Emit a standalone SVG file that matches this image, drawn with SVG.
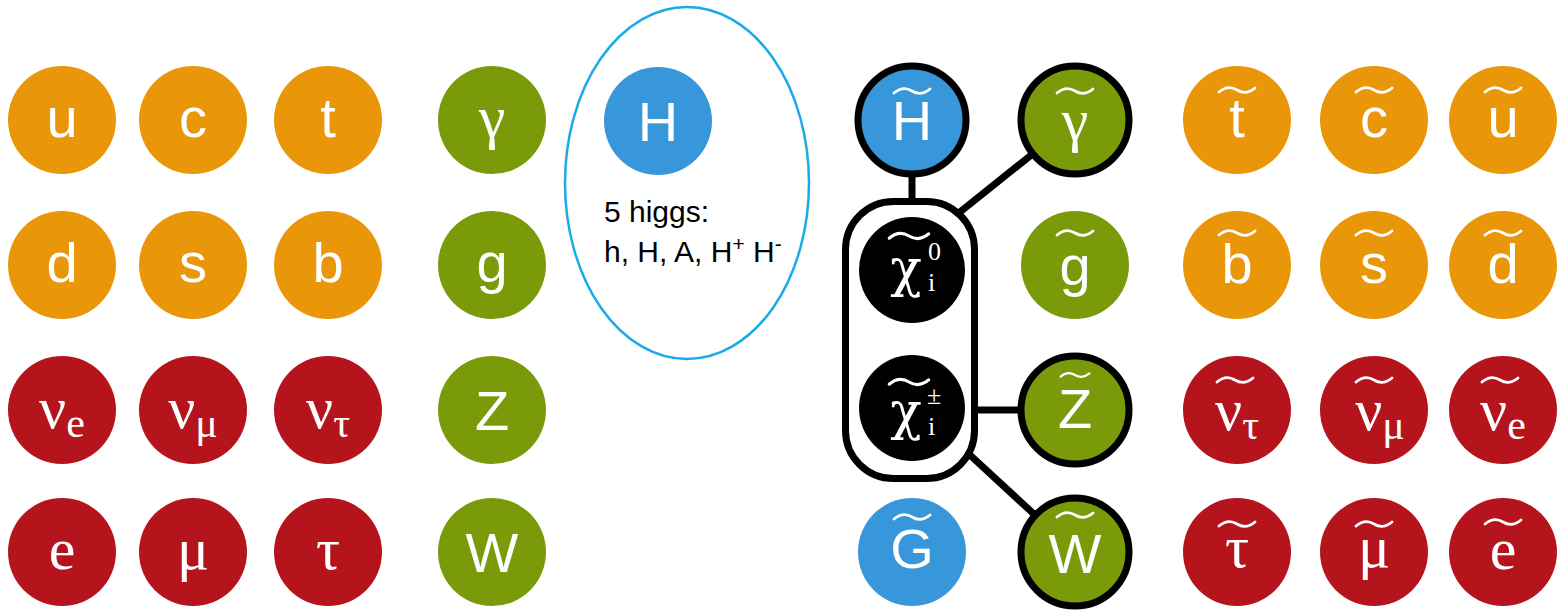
<svg xmlns="http://www.w3.org/2000/svg" xmlns:xlink="http://www.w3.org/1999/xlink" width="1560" height="610" viewBox="0 0 1560 610">
<style>
.o{fill:#E99708}
.g{fill:#7B9A0A}
.r{fill:#B6141D}
.b{fill:#3897DB}
.k{fill:#000}
.st{stroke:#000;stroke-width:7}
.sa{font-family:"Liberation Sans",Arial,sans-serif;font-size:56px;fill:#fff;text-anchor:middle}
.se{font-family:"Liberation Serif","Times New Roman",serif;font-size:60px;fill:#fff;text-anchor:middle}
.chi{font-family:"DejaVu Serif","Liberation Serif",serif;font-size:52px;fill:#fff;text-anchor:middle}
.sm{font-family:"Liberation Serif","Times New Roman",serif;font-size:26px;fill:#fff}
.tl{fill:none;stroke:#fff;stroke-width:2.8;stroke-linecap:round}
.lk{stroke:#000;stroke-width:7;fill:none}
.ht{font-family:"Liberation Sans",Arial,sans-serif;font-size:30px;fill:#000}
</style>
<defs>
<path id="tld" d="M-18,2 Q-9,-5.5 0,0 T18,-2"/>
</defs>
<rect width="1560" height="610" fill="#fff"/>

<!-- Standard model: quarks -->
<g id="u"><circle class="o" cx="62" cy="120" r="54"/><text class="sa" x="62" y="137">u</text></g>
<g id="c"><circle class="o" cx="193" cy="120" r="54"/><text class="sa" x="193" y="137">c</text></g>
<g id="t"><circle class="o" cx="328" cy="120" r="54"/><text class="sa" x="328" y="137">t</text></g>
<g id="d"><circle class="o" cx="62" cy="265" r="54"/><text class="sa" x="62" y="282">d</text></g>
<g id="s"><circle class="o" cx="193" cy="265" r="54"/><text class="sa" x="193" y="282">s</text></g>
<g id="b"><circle class="o" cx="328" cy="265" r="54"/><text class="sa" x="328" y="282">b</text></g>
<!-- leptons -->
<g id="nue"><circle class="r" cx="62" cy="410" r="54"/><text class="se" x="62" y="428">ν<tspan font-size="42" dy="9">e</tspan></text></g>
<g id="numu"><circle class="r" cx="193" cy="410" r="54"/><text class="se" x="193" y="428">ν<tspan font-size="42" dy="9">μ</tspan></text></g>
<g id="nutau"><circle class="r" cx="328" cy="410" r="54"/><text class="se" x="328" y="428">ν<tspan font-size="42" dy="9">τ</tspan></text></g>
<g id="e"><circle class="r" cx="62" cy="552" r="54"/><text class="se" x="62" y="569" font-size="64">e</text></g>
<g id="mu"><circle class="r" cx="193" cy="552" r="54"/><text class="se" x="193" y="569">μ</text></g>
<g id="tau"><circle class="r" cx="328" cy="552" r="54"/><text class="se" x="328" y="569">τ</text></g>
<!-- bosons -->
<g id="gamma"><circle class="g" cx="492" cy="120" r="54"/><text class="se" x="492" y="137">γ</text></g>
<g id="gluon"><circle class="g" cx="492" cy="265" r="54"/><text class="sa" x="492" y="282">g</text></g>
<g id="Z"><circle class="g" cx="492" cy="410" r="54"/><text class="sa" x="492" y="430">Z</text></g>
<g id="W"><circle class="g" cx="492" cy="552" r="54"/><text class="sa" x="492" y="572">W</text></g>

<!-- Higgs group -->
<g id="higgs">
<ellipse cx="687" cy="183" rx="122" ry="176" fill="none" stroke="#1AAAE8" stroke-width="2.5"/>
<circle class="b" cx="658" cy="121" r="54"/><text class="sa" x="658" y="141">H</text>
<text class="ht" x="604" y="222">5 higgs:</text>
<text class="ht" x="604" y="262">h, H, A, H<tspan font-size="21" dy="-11">+</tspan><tspan dy="11"> H</tspan><tspan font-size="21" dy="-11">-</tspan></text>
</g>

<!-- connectors -->
<g id="connectors">
<line class="lk" x1="912" y1="170" x2="912" y2="205"/>
<line class="lk" x1="955" y1="216" x2="1075" y2="120"/>
<line class="lk" x1="970" y1="410" x2="1075" y2="410"/>
<line class="lk" x1="958" y1="444" x2="1075" y2="552"/>
</g>

<!-- SUSY gauginos / higgsinos -->
<g id="neutralino-chargino-box">
<rect x="845.5" y="201.5" width="129" height="277" rx="48" fill="#fff" stroke="#000" stroke-width="7"/>
</g>
<g id="Htilde"><circle class="b st" cx="912" cy="120" r="54"/><text class="sa" x="912" y="140">H</text><use xlink:href="#tld" x="912" y="91" class="tl"/></g>
<g id="gammatilde"><circle class="g st" cx="1075" cy="120" r="54"/><text class="se" x="1075" y="140">γ</text><use xlink:href="#tld" x="1075" y="91" class="tl"/></g>
<g id="gtilde"><circle class="g" cx="1075" cy="265" r="54"/><text class="sa" x="1075" y="285">g</text><use xlink:href="#tld" x="1075" y="233" class="tl"/></g>
<g id="Ztilde"><circle class="g st" cx="1075" cy="410" r="54"/><text class="sa" x="1075" y="428">Z</text><use xlink:href="#tld" x="1075" y="375" class="tl" transform="translate(1075 375) scale(0.8) translate(-1075 -375)"/></g>
<g id="Wtilde"><circle class="g st" cx="1075" cy="552" r="54"/><text class="sa" x="1075" y="573">W</text><use xlink:href="#tld" x="1075" y="515" class="tl"/></g>
<g id="Gtilde"><circle class="b" cx="912" cy="552" r="54"/><text class="sa" x="912" y="568">G</text><use xlink:href="#tld" x="912" y="517" class="tl"/></g>
<g id="chi0"><circle class="k" cx="912" cy="270" r="53"/><text class="chi" x="906" y="286">χ</text><text class="sm" x="928" y="260">0</text><text class="sm" x="928" y="291">i</text><use xlink:href="#tld" x="909" y="236" class="tl" transform="translate(909 236) scale(1.1) translate(-909 -236)"/></g>
<g id="chipm"><circle class="k" cx="912" cy="408" r="53"/><text class="chi" x="906" y="429">χ</text><text class="sm" x="927" y="404" font-size="24">±</text><text class="sm" x="928" y="435">i</text><use xlink:href="#tld" x="909" y="382" class="tl" transform="translate(909 382) scale(1.1) translate(-909 -382)"/></g>

<!-- Squarks -->
<g id="ttilde"><circle class="o" cx="1237" cy="120" r="54"/><text class="sa" x="1237" y="137">t</text><use xlink:href="#tld" x="1237" y="90" class="tl"/></g>
<g id="ctilde"><circle class="o" cx="1374" cy="120" r="54"/><text class="sa" x="1374" y="137">c</text><use xlink:href="#tld" x="1374" y="90" class="tl"/></g>
<g id="utilde"><circle class="o" cx="1503" cy="120" r="54"/><text class="sa" x="1503" y="137">u</text><use xlink:href="#tld" x="1503" y="90" class="tl"/></g>
<g id="btilde"><circle class="o" cx="1237" cy="265" r="54"/><text class="sa" x="1237" y="283">b</text><use xlink:href="#tld" x="1237" y="233" class="tl"/></g>
<g id="stilde"><circle class="o" cx="1374" cy="265" r="54"/><text class="sa" x="1374" y="283">s</text><use xlink:href="#tld" x="1374" y="233" class="tl"/></g>
<g id="dtilde"><circle class="o" cx="1503" cy="265" r="54"/><text class="sa" x="1503" y="283">d</text><use xlink:href="#tld" x="1503" y="233" class="tl"/></g>
<!-- Sleptons -->
<g id="nutautilde"><circle class="r" cx="1237" cy="410" r="54"/><text class="se" x="1237" y="430">ν<tspan font-size="42" dy="9">τ</tspan></text><use xlink:href="#tld" x="1235" y="380" class="tl"/></g>
<g id="numutilde"><circle class="r" cx="1374" cy="410" r="54"/><text class="se" x="1380" y="430">ν<tspan font-size="42" dy="9">μ</tspan></text><use xlink:href="#tld" x="1374" y="380" class="tl"/></g>
<g id="nuetilde"><circle class="r" cx="1503" cy="410" r="54"/><text class="se" x="1503" y="430">ν<tspan font-size="42" dy="9">e</tspan></text><use xlink:href="#tld" x="1500" y="380" class="tl"/></g>
<g id="tautilde"><circle class="r" cx="1237" cy="552" r="54"/><text class="se" x="1237" y="567">τ</text><use xlink:href="#tld" x="1237" y="524" class="tl"/></g>
<g id="mutilde"><circle class="r" cx="1374" cy="552" r="54"/><text class="se" x="1374" y="567">μ</text><use xlink:href="#tld" x="1374" y="524" class="tl"/></g>
<g id="etilde"><circle class="r" cx="1503" cy="552" r="54"/><text class="se" x="1503" y="569" font-size="64">e</text><use xlink:href="#tld" x="1503" y="522" class="tl"/></g>
</svg>
